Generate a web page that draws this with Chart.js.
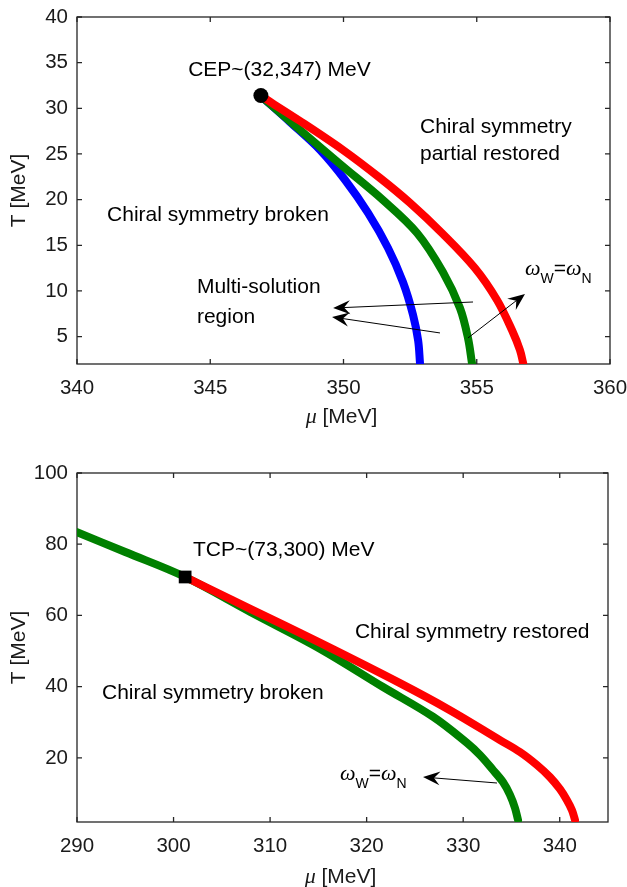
<!DOCTYPE html>
<html><head><meta charset="utf-8">
<script src="https://cdn.jsdelivr.net/npm/chart.js@4.4.1/dist/chart.umd.min.js"></script>
<style>
html,body{margin:0;padding:0;background:#fff;}
#wrap{position:relative;width:627px;height:887px;overflow:hidden;}
.box{position:absolute;left:0;width:627px;}
canvas{display:block;}
</style></head><body>
<div id="wrap">
<div class="box" style="top:0;height:430px"><canvas id="c1" width="627" height="430"></canvas></div>
<div class="box" style="top:440px;height:447px"><canvas id="c2" width="627" height="447"></canvas></div>
</div>
<script>
// ---------- Top panel data (CEP) ----------
const topXTicks = [340, 345, 350, 355, 360];
const topYTicks = [5, 10, 15, 20, 25, 30, 35, 40];
const cepMu = [346.9];
const cepT  = [31.4];
const topRedMu   = [346.9, 348.37, 349.98, 351.37, 352.50, 353.73, 354.93, 355.76, 356.32, 356.62, 356.74];
const topRedT    = [31.35, 28.61, 25.44, 22.37, 19.63, 16.24, 12.51, 9.01, 5.72, 3.53, 2.11];
const topGreenMu = [346.9, 348.37, 349.87, 351.48, 352.76, 353.73, 354.37, 354.67, 354.82];
const topGreenT  = [31.35, 27.63, 23.90, 19.96, 16.35, 12.08, 8.13, 4.85, 2.11];
const topBlueMu  = [346.9, 347.99, 349.12, 350.06, 350.92, 351.67, 352.23, 352.61, 352.80, 352.87];
const topBlueT   = [31.35, 28.50, 25.44, 22.15, 18.54, 14.70, 10.98, 7.37, 4.58, 2.11];

// ---------- Bottom panel data (TCP) ----------
const botXTicks = [290, 300, 310, 320, 330, 340];
const botYTicks = [20, 40, 60, 80, 100];
const tcpMu = [301.2];
const tcpT  = [70.8];
const botGreenMu = [290.0, 295.0, 301.2, 308.0, 315.2, 321.7, 326.9, 330.39, 331.74, 333.09, 334.12, 334.85, 335.37, 335.68];
const botGreenT  = [83.4, 77.8, 70.8, 60.9, 50.6, 39.9, 31.5, 24.2, 20.8, 16.6, 13.2, 9.6, 5.9, 2.6];
const botRedMu   = [301.2, 308.0, 315.2, 323.45, 328.63, 333.81, 335.88, 337.64, 338.99, 340.03, 340.75, 341.27, 341.58];
const botRedT    = [70.8, 61.8, 52.3, 41.0, 33.4, 25.0, 21.65, 18.0, 14.6, 11.2, 8.1, 5.3, 2.6];

const RED = '#ff0000', GREEN = '#008000', BLUE = '#0000ff', AX = '#262626';
const SANS = '"Liberation Sans", Arial, sans-serif';

function pts(mu, t) { return mu.map((m, i) => ({ x: m, y: t[i] })); }
function curve(mu, t, color) {
  return { data: pts(mu, t), borderColor: color, backgroundColor: color, borderWidth: 8,
           pointRadius: 0, showLine: true, tension: 0.35,
           borderCapStyle: 'round', borderJoinStyle: 'round', fill: false };
}
function marker(mu, t, style, r) {
  return { data: pts(mu, t), showLine: false, pointStyle: style, pointRadius: r,
           pointBackgroundColor: '#000', pointBorderColor: '#000', pointBorderWidth: 0 };
}

function drawArrow(ctx, x1, y1, x2, y2) {
  const a = Math.atan2(y2 - y1, x2 - x1), c = Math.cos(a), s = Math.sin(a);
  const L = 17, W = 7, N = 11;
  const P = (u, v) => [x2 + u * c - v * s, y2 + u * s + v * c];
  ctx.beginPath(); ctx.moveTo(x1, y1); const e = P(-N, 0); ctx.lineTo(e[0], e[1]); ctx.stroke();
  const t = P(0, 0), w1 = P(-L, W), n = P(-N, 0), w2 = P(-L, -W);
  ctx.beginPath(); ctx.moveTo(t[0], t[1]); ctx.lineTo(w1[0], w1[1]); ctx.lineTo(n[0], n[1]);
  ctx.lineTo(w2[0], w2[1]); ctx.closePath(); ctx.fill();
}

function drawOmega(ctx, x, yb) {
  ctx.textAlign = 'left'; ctx.textBaseline = 'alphabetic'; ctx.fillStyle = '#000';
  let cx = x;
  const part = (txt, font, dy) => { ctx.font = font; ctx.fillText(txt, cx, yb + dy); cx += ctx.measureText(txt).width; };
  part('\u03c9', 'italic 22px "Liberation Serif", serif', 0);
  part('W', '14px ' + SANS, 8);
  part('=', '21px ' + SANS, 0);
  part('\u03c9', 'italic 22px "Liberation Serif", serif', 0);
  part('N', '14px ' + SANS, 8);
}

function decor(cfg) {
  return {
    id: 'decor',
    beforeDatasetsDraw(chart) {
      const { ctx, chartArea: a, scales: { x, y } } = chart;
      ctx.save();
      ctx.strokeStyle = AX; ctx.lineWidth = 1.3;
      ctx.strokeRect(a.left, a.top, a.right - a.left, a.bottom - a.top);
      const tl = 5;
      ctx.beginPath();
      x.ticks.forEach(t => { const p = x.getPixelForValue(t.value);
        ctx.moveTo(p, a.bottom); ctx.lineTo(p, a.bottom - tl);
        ctx.moveTo(p, a.top); ctx.lineTo(p, a.top + tl); });
      y.ticks.forEach(t => { const p = y.getPixelForValue(t.value);
        ctx.moveTo(a.left, p); ctx.lineTo(a.left + tl, p);
        ctx.moveTo(a.right, p); ctx.lineTo(a.right - tl, p); });
      ctx.stroke();
      ctx.restore();
    },
    afterDatasetsDraw(chart) {
      const { ctx, scales: { x, y } } = chart;
      ctx.save();
      ctx.fillStyle = '#000'; ctx.strokeStyle = '#000'; ctx.lineWidth = 1;
      ctx.font = '21px ' + SANS; ctx.textAlign = 'left'; ctx.textBaseline = 'middle';
      cfg.texts.forEach(t => ctx.fillText(t.text, x.getPixelForValue(t.mu), y.getPixelForValue(t.T)));
      cfg.arrows.forEach(r => drawArrow(ctx, x.getPixelForValue(r.from[0]), y.getPixelForValue(r.from[1]),
                                            x.getPixelForValue(r.to[0]), y.getPixelForValue(r.to[1])));
      drawOmega(ctx, x.getPixelForValue(cfg.omega.mu), y.getPixelForValue(cfg.omega.T));
      ctx.restore();
    },
    afterDraw(chart) {
      const { ctx, chartArea: a } = chart;
      ctx.save();
      ctx.fillStyle = '#1a1a1a'; ctx.textBaseline = 'middle';
      const f1 = 'italic 22px "Liberation Serif", serif', f2 = '21px ' + SANS;
      ctx.font = f1; const w1 = ctx.measureText('\u03bc').width;
      ctx.font = f2; const w2 = ctx.measureText(' [MeV]').width;
      const cx = (a.left + a.right) / 2 - 2, ty = a.bottom + cfg.xTitleOffset;
      let sx = cx - (w1 + w2) / 2;
      ctx.textAlign = 'left';
      ctx.font = f1; ctx.fillText('\u03bc', sx, ty);
      ctx.font = f2; ctx.fillText(' [MeV]', sx + w1, ty);
      ctx.translate(19, (a.top + a.bottom) / 2); ctx.rotate(-Math.PI / 2);
      ctx.textAlign = 'center'; ctx.font = f2; ctx.fillText('T [MeV]', 0, 0);
      ctx.restore();
    }
  };
}

function zeroPad(s) { s.paddingLeft = 0; s.paddingRight = 0; s.paddingTop = 0; s.paddingBottom = 0; }

function makeChart(id, datasets, xr, yr, xt, yt, pad, xAxisH, cfg) {
  return new Chart(document.getElementById(id), {
    type: 'scatter',
    data: { datasets },
    options: {
      responsive: false, animation: false, devicePixelRatio: 1,
      layout: { padding: { top: pad.top, right: pad.right, left: 0, bottom: 0 } },
      plugins: { legend: { display: false }, tooltip: { enabled: false } },
      scales: {
        x: { type: 'linear', min: xr[0], max: xr[1],
             grid: { display: false, drawTicks: false }, border: { display: false },
             ticks: { color: '#1a1a1a', font: { family: SANS, size: 20.5 }, padding: 12, maxRotation: 0 },
             afterBuildTicks: s => { s.ticks = xt.map(v => ({ value: v })); },
             afterFit: s => { s.height = xAxisH; zeroPad(s); } },
        y: { type: 'linear', min: yr[0], max: yr[1],
             grid: { display: false, drawTicks: false }, border: { display: false },
             ticks: { color: '#1a1a1a', font: { family: SANS, size: 20.5 }, padding: 9 },
             afterBuildTicks: s => { s.ticks = yt.map(v => ({ value: v })); },
             afterFit: s => { s.width = 77; zeroPad(s); } }
      }
    },
    plugins: [decor(cfg)]
  });
}

// Top chart
makeChart('c1',
  [marker(cepMu, cepT, 'circle', 7.5),
   curve(topRedMu, topRedT, RED), curve(topGreenMu, topGreenT, GREEN), curve(topBlueMu, topBlueT, BLUE)],
  [340, 360], [2, 40], topXTicks, topYTicks, { top: 17, right: 17 }, 66,
  { xTitleOffset: 53,
    texts: [
      { text: 'CEP~(32,347) MeV', mu: 344.17, T: 34.2 },
      { text: 'Chiral symmetry', mu: 352.87, T: 27.95 },
      { text: 'partial restored', mu: 352.87, T: 25.0 },
      { text: 'Chiral symmetry broken', mu: 341.13, T: 18.3 },
      { text: 'Multi-solution', mu: 344.5, T: 10.43 },
      { text: 'region', mu: 344.5, T: 7.15 }
    ],
    arrows: [
      { from: [354.86, 8.79], to: [349.61, 8.13] },
      { from: [353.62, 5.40], to: [349.57, 7.15] },
      { from: [354.67, 4.85], to: [356.81, 9.67] }
    ],
    omega: { mu: 356.81, T: 11.75 }
  });

// Bottom chart
makeChart('c2',
  [marker(tcpMu, tcpT, 'rect', 9),
   curve(botRedMu, botRedT, RED), curve(botGreenMu, botGreenT, GREEN)],
  [290, 345], [2, 100], botXTicks, botYTicks, { top: 33, right: 19 }, 65,
  { xTitleOffset: 55,
    texts: [
      { text: 'TCP~(73,300) MeV', mu: 302.01, T: 78.4 },
      { text: 'Chiral symmetry restored', mu: 318.79, T: 55.35 },
      { text: 'Chiral symmetry broken', mu: 292.59, T: 38.2 }
    ],
    arrows: [
      { from: [333.5, 12.95], to: [325.84, 14.63] }
    ],
    omega: { mu: 317.24, T: 13.8 }
  });
</script>
</body></html>
